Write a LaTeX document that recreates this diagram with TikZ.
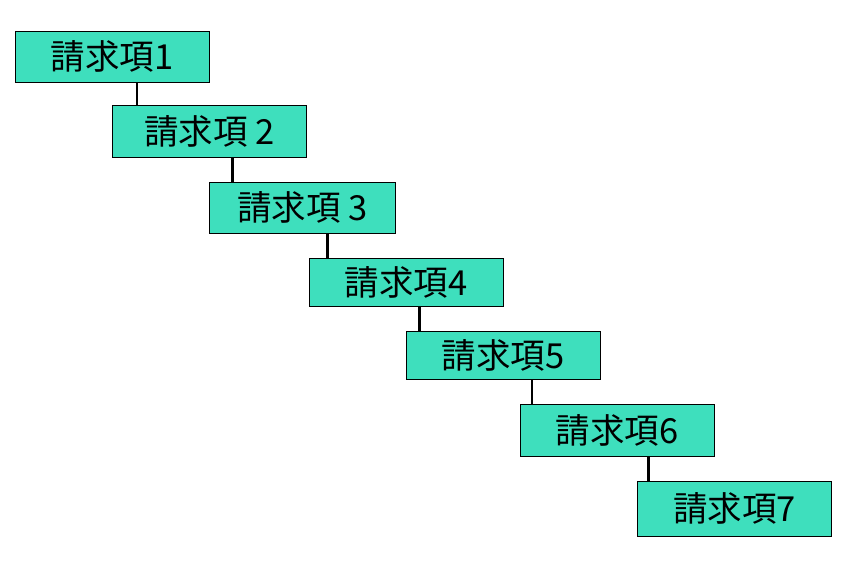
\documentclass[tikz,border=0pt]{standalone}
\usepackage{fontspec}
\newfontfamily\cjk{Noto Sans CJK JP}
\definecolor{boxfill}{RGB}{62,223,189}
\begin{document}
\begin{tikzpicture}[x=1pt,y=-1pt,
  claim/.style={draw=black,line width=0.8pt,fill=boxfill,inner sep=0pt,
    minimum width=194pt,minimum height=51pt,
    font=\cjk\fontsize{34.5}{40}\selectfont},
  link/.style={draw=black,line width=2.3pt}]
\useasboundingbox[fill=white] (0,0) rectangle (861,564);
\node[claim,minimum width=193.5pt] (b1) at (112.3,56.8) {請求項1};
\node[claim,minimum width=193.3pt,minimum height=51.7pt] (b2) at (209.4,131.2) {請求項 2};
\node[claim,minimum width=186pt] (b3) at (302.3,207.8) {請求項 3};
\node[claim,minimum height=48pt] (b4) at (406.3,282.3) {請求項4};
\node[claim,minimum height=47.6pt] (b5) at (503.3,355.5) {請求項5};
\node[claim,minimum height=52pt] (b6) at (617.3,430.3) {請求項6};
\node[claim,minimum width=194.4pt,minimum height=54.7pt] (b7) at (734.5,508.7) {請求項7};
\coordinate (c2) at ([xshift=24.3pt]b2.north west);
\coordinate (c3) at ([xshift=23.7pt]b3.north west);
\coordinate (c4) at ([xshift=18.7pt]b4.north west);
\coordinate (c5) at ([xshift=13.7pt]b5.north west);
\coordinate (c6) at ([xshift=12.4pt]b6.north west);
\coordinate (c7) at ([xshift=11.7pt]b7.north west);
\draw[link] (c2 |- b1.south) -- (c2);
\draw[link] (c3 |- b2.south) -- (c3);
\draw[link] (c4 |- b3.south) -- (c4);
\draw[link] (c5 |- b4.south) -- (c5);
\draw[link] (c6 |- b5.south) -- (c6);
\draw[link] (c7 |- b6.south) -- (c7);
\end{tikzpicture}
\end{document}
